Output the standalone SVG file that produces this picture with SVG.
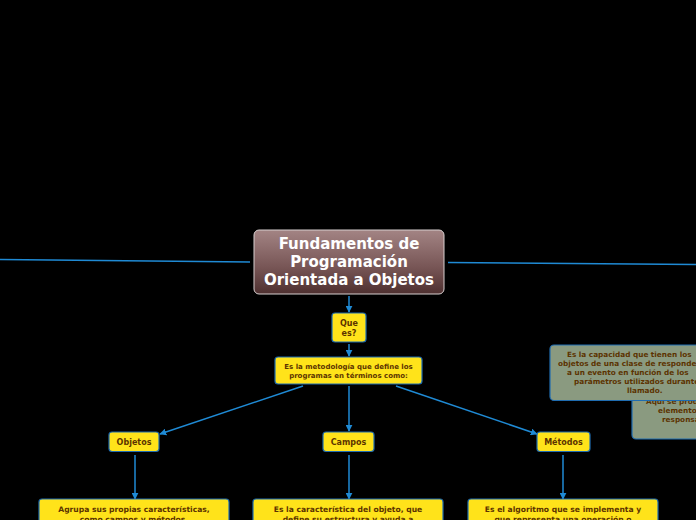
<svg xmlns="http://www.w3.org/2000/svg" width="696" height="520" viewBox="0 0 696 520">
<style>
.bg{fill:#000}
.conn{stroke:#1f8ad4;stroke-width:1.5;fill:none}
.yb{fill:#ffe31a;stroke:#1f6cb0;stroke-width:1.2}
.gb{fill:#8a9a80;stroke:#1f6cb0;stroke-width:1.2}
.t{font-family:"DejaVu Sans",Verdana,sans-serif;font-weight:bold;fill:#5c3300}
.root{font-family:"DejaVu Sans",Verdana,sans-serif;font-weight:bold;fill:#fff;font-size:15px;text-anchor:middle}
.m{text-anchor:middle}
</style>
<defs>
<linearGradient id="rg" x1="0" y1="0" x2="0" y2="1">
<stop offset="0" stop-color="#a38484"/>
<stop offset="0.6" stop-color="#765454"/>
<stop offset="1" stop-color="#4e3030"/>
</linearGradient>
<marker id="ah" viewBox="0 0 10 10" refX="9" refY="5" markerWidth="7" markerHeight="7" markerUnits="userSpaceOnUse" orient="auto">
<path d="M0,0 L10,5 L0,10 z" fill="#1f8ad4"/>
</marker>
</defs>
<rect class="bg" x="0" y="0" width="696" height="520"/>
<g id="connectors">
<line class="conn" x1="0" y1="259.5" x2="250" y2="262"/>
<line class="conn" x1="448" y1="262.5" x2="696" y2="264.5"/>
<line class="conn" x1="349" y1="296" x2="349" y2="312" marker-end="url(#ah)"/>
<line class="conn" x1="349" y1="344" x2="349" y2="356" marker-end="url(#ah)"/>
<line class="conn" x1="303" y1="386" x2="160" y2="434" marker-end="url(#ah)"/>
<line class="conn" x1="349" y1="386" x2="349" y2="431" marker-end="url(#ah)"/>
<line class="conn" x1="396" y1="386" x2="537" y2="434" marker-end="url(#ah)"/>
<line class="conn" x1="135" y1="455" x2="135" y2="499" marker-end="url(#ah)"/>
<line class="conn" x1="349" y1="455" x2="349" y2="499" marker-end="url(#ah)"/>
<line class="conn" x1="563" y1="455" x2="563" y2="499" marker-end="url(#ah)"/>
</g>
<g id="root">
<rect x="254" y="230" width="190" height="64" rx="5" fill="url(#rg)" stroke="#d8d0d0" stroke-width="1"/>
<text class="root" x="349" y="249">Fundamentos de</text>
<text class="root" x="349" y="267">Programación</text>
<text class="root" x="349" y="285">Orientada a Objetos</text>
</g>
<g id="que-es">
<rect class="yb" x="332" y="313" width="34" height="29" rx="3"/>
<text class="t m" x="349" y="326" font-size="8">Que</text>
<text class="t m" x="349" y="335.5" font-size="8">es?</text>
</g>
<g id="metodologia">
<rect class="yb" x="275" y="357" width="147" height="27" rx="3"/>
<text class="t m" x="348.5" y="369" font-size="7">Es la metodología que define los</text>
<text class="t m" x="348.5" y="377.5" font-size="7">programas en términos como:</text>
</g>
<g id="objetos">
<rect class="yb" x="109" y="432" width="50" height="19.5" rx="3"/>
<text class="t m" x="134" y="444.5" font-size="8">Objetos</text>
</g>
<g id="campos">
<rect class="yb" x="323" y="432" width="51" height="19.5" rx="3"/>
<text class="t m" x="348.5" y="444.5" font-size="8">Campos</text>
</g>
<g id="metodos">
<rect class="yb" x="537" y="432" width="53" height="19.5" rx="3"/>
<text class="t m" x="563.5" y="444.5" font-size="8">Métodos</text>
</g>
<g id="objetos-desc">
<rect class="yb" x="39" y="499" width="190" height="40" rx="3"/>
<text class="t m" x="134" y="512" font-size="7.6">Agrupa sus propias características,</text>
<text class="t m" x="134" y="522" font-size="7.6">como campos y métodos.</text>
</g>
<g id="campos-desc">
<rect class="yb" x="253" y="499" width="190" height="40" rx="3"/>
<text class="t m" x="348" y="512" font-size="7.6">Es la característica del objeto, que</text>
<text class="t m" x="348" y="522" font-size="7.6">define su estructura y ayuda a</text>
</g>
<g id="metodos-desc">
<rect class="yb" x="468" y="499" width="190" height="40" rx="3"/>
<text class="t m" x="563" y="512" font-size="7.6">Es el algoritmo que se implementa y</text>
<text class="t m" x="563" y="522" font-size="7.6">que representa una operación o</text>
</g>
<g id="nota-atras">
<rect class="gb" x="632" y="380" width="90" height="59" rx="4"/>
<text class="t" x="646" y="404" font-size="7.3">Aquí se produce</text>
<text class="t" x="658" y="413" font-size="7.3">elementos</text>
<text class="t" x="662" y="422" font-size="7.3">responsables</text>
</g>
<g id="nota-frente">
<rect class="gb" x="550" y="345" width="170" height="55.5" rx="4"/>
<text class="t" x="567" y="357" font-size="7.3">Es la capacidad que tienen los</text>
<text class="t" x="558" y="366" font-size="7.3">objetos de una clase de responder</text>
<text class="t" x="567" y="375" font-size="7.3">a un evento en función de los</text>
<text class="t" x="574" y="384" font-size="7.3">parámetros utilizados durante</text>
<text class="t" x="627" y="393" font-size="7.3">llamado.</text>
</g>
</svg>
